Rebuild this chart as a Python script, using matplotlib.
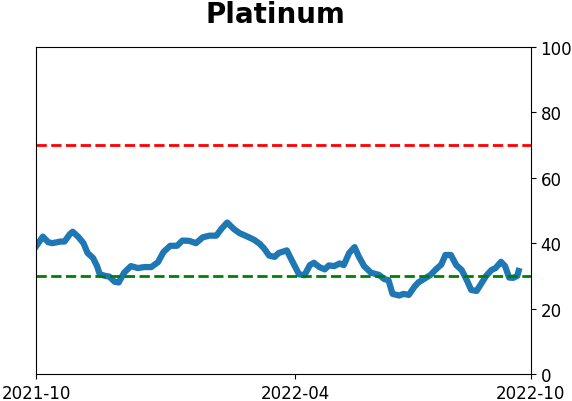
import numpy as np
import matplotlib
matplotlib.use("Agg")
import matplotlib.pyplot as plt
import pandas as pd

# values
dates = [
    "2021-10-01", "2021-10-06", "2021-10-10", "2021-10-13", "2021-10-19", "2021-10-22",
    "2021-10-26", "2021-10-28", "2021-11-01", "2021-11-05", "2021-11-08", "2021-11-12",
    "2021-11-15", "2021-11-17", "2021-11-21", "2021-11-24", "2021-11-28", "2021-12-01",
    "2021-12-05", "2021-12-10", "2021-12-15", "2021-12-20", "2021-12-25", "2021-12-30",
    "2022-01-03", "2022-01-08", "2022-01-13", "2022-01-17", "2022-01-22", "2022-01-27",
    "2022-02-01", "2022-02-06", "2022-02-11", "2022-02-15", "2022-02-19", "2022-02-24",
    "2022-02-28", "2022-03-06", "2022-03-11", "2022-03-15", "2022-03-18", "2022-03-22",
    "2022-03-26", "2022-03-29", "2022-04-04", "2022-04-08", "2022-04-13", "2022-04-17",
    "2022-04-21", "2022-04-24", "2022-04-28", "2022-05-02", "2022-05-05", "2022-05-09",
    "2022-05-13", "2022-05-16", "2022-05-20", "2022-05-24", "2022-05-27", "2022-05-31",
    "2022-06-05", "2022-06-11", "2022-06-15", "2022-06-18", "2022-06-21", "2022-06-26",
    "2022-06-29", "2022-07-03", "2022-07-07", "2022-07-10", "2022-07-14", "2022-07-19",
    "2022-07-23", "2022-07-27", "2022-07-30", "2022-08-03", "2022-08-07", "2022-08-11",
    "2022-08-15", "2022-08-18", "2022-08-22", "2022-08-26", "2022-08-29", "2022-09-02",
    "2022-09-05", "2022-09-09", "2022-09-12", "2022-09-15", "2022-09-18", "2022-09-21",
    "2022-09-22",
]
values = [
    39.0, 42.0, 40.3, 40.0, 40.5, 40.5,
    42.8, 43.5, 42.0, 40.0, 37.0, 35.5,
    33.0, 30.5, 30.0, 29.8, 28.2, 28.0,
    31.0, 33.0, 32.4, 32.7, 32.7, 34.2,
    37.3, 39.2, 39.2, 40.8, 40.7, 40.0,
    41.8, 42.3, 42.3, 44.5, 46.3, 44.3,
    43.1, 42.0, 41.0, 39.8, 38.5, 36.2,
    35.8, 37.0, 37.8, 34.5, 30.5, 30.2,
    33.3, 34.0, 32.7, 32.0, 33.2, 33.0,
    33.8, 33.3, 37.0, 38.8, 36.0, 33.0,
    31.0, 30.3, 29.0, 28.7, 24.5, 24.0,
    24.5, 24.2, 26.6, 28.0, 29.0, 30.3,
    32.0, 33.5, 36.4, 36.4, 33.3, 31.8,
    28.5, 25.7, 25.4, 28.0, 30.0, 31.8,
    32.4, 34.3, 33.0, 29.5, 29.4, 30.0,
    31.5,
]
upper_level = 70
lower_level = 30
tick_dates = ["2021-10-01", "2022-04-10", "2022-10-01"]
tick_labels = ["2021-10", "2022-04", "2022-10"]

x = pd.to_datetime(dates)

fig = plt.figure(figsize=(5.72, 4.02), dpi=100)
ax = fig.add_axes([0.063, 0.067, 0.865, 0.814])

ax.plot(x, values, color="#1f77b4", linewidth=4.5)
ax.axhline(upper_level, color="red", linestyle="--", linewidth=2)
ax.axhline(lower_level, color="green", linestyle="--", linewidth=2)

ax.set_xlim(pd.Timestamp("2021-10-01"), pd.Timestamp("2022-10-01"))
ax.set_ylim(0, 100)
ax.set_xticks(pd.to_datetime(tick_dates))
ax.set_xticklabels(tick_labels)
ax.set_yticks([0, 20, 40, 60, 80, 100])
ax.yaxis.tick_right()
ax.tick_params(labelsize=12)

# title sits a bit left of the axes centre in the reference
fig.text(0.481, 0.997, "Platinum", fontsize=20, fontweight="bold",
         ha="center", va="top")

plt.savefig("out.png", dpi=100)
